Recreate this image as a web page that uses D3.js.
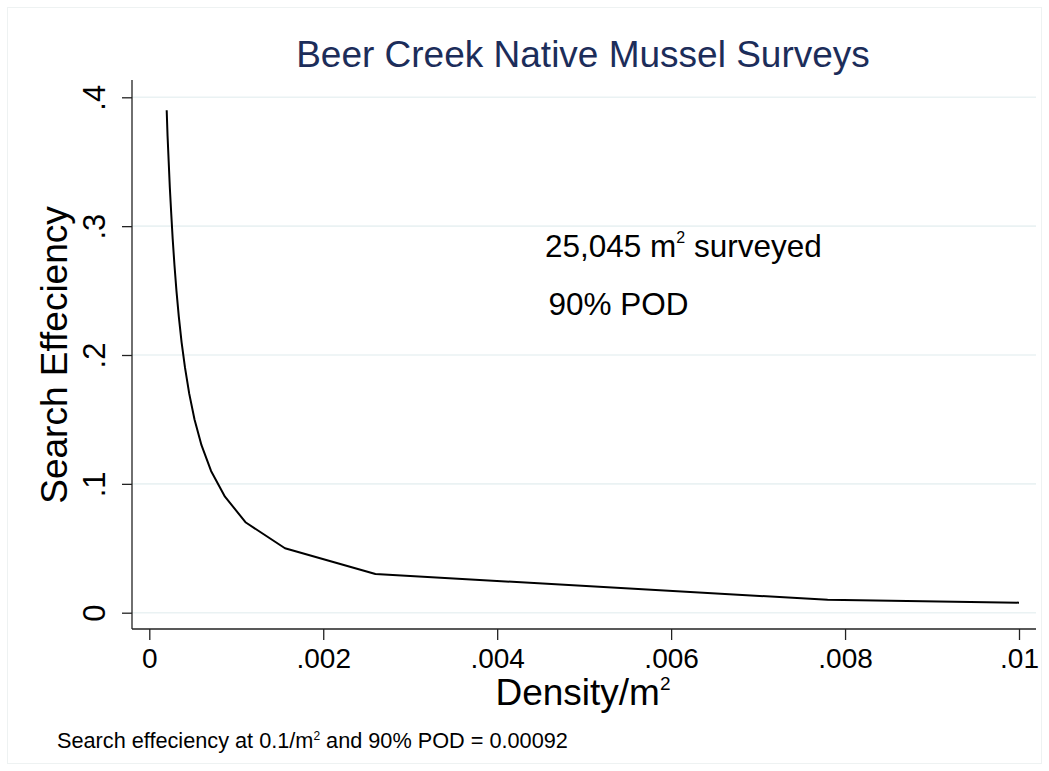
<!DOCTYPE html>
<html>
<head>
<meta charset="utf-8">
<script src="https://cdn.jsdelivr.net/npm/d3@7"></script>
<style>
  html, body { margin: 0; padding: 0; background: #ffffff; }
  svg text { font-family: "Liberation Sans", Arial, Helvetica, sans-serif; }
</style>
</head>
<body>
<svg id="chart" width="1049" height="771"></svg>
<script>
// Search efficiency curve: density (per m²) against search efficiency
const density = [0.0002, 0.00021, 0.000223, 0.000236, 0.000252, 0.000269, 0.000289,
  0.000312, 0.000339, 0.000371, 0.000411, 0.000459, 0.00052, 0.0006, 0.00071,
  0.00087, 0.00111, 0.00156, 0.0026, 0.0078, 0.01];
const efficiency = [0.39, 0.37, 0.35, 0.33, 0.31, 0.29, 0.27, 0.25, 0.23, 0.21, 0.19,
  0.17, 0.15, 0.13, 0.11, 0.09, 0.07, 0.05, 0.03, 0.01, 0.0078];

const xTicks = [0, 0.002, 0.004, 0.006, 0.008, 0.01];
const xTickLabels = ["0", ".002", ".004", ".006", ".008", ".01"];
const yTicks = [0, 0.1, 0.2, 0.3, 0.4];
const yTickLabels = ["0", ".1", ".2", ".3", ".4"];

const titleText = "Beer Creek Native Mussel Surveys";
const yTitle = "Search Effeciency";
const noteArea = "25,045";
const notePOD = "90% POD";

const svg = d3.select("#chart");
const W = 1049, H = 771;

// outer frame
svg.append("rect").attr("x", 7.5).attr("y", 7.5).attr("width", W - 15).attr("height", H - 15)
  .attr("fill", "#ffffff").attr("stroke", "#eef2f2").attr("stroke-width", 1);

const plot = { left: 132, right: 1036, top: 80, bottom: 629 };

const x = d3.scaleLinear().domain([0, 0.01]).range([149.3, 1019]);
const y = d3.scaleLinear().domain([0, 0.4]).range([612.7, 97.3]);

// horizontal gridlines
svg.append("g").selectAll("line").data(yTicks).join("line")
  .attr("x1", plot.left).attr("x2", plot.right)
  .attr("y1", d => y(d)).attr("y2", d => y(d))
  .attr("stroke", "#eaf2f3").attr("stroke-width", 1.6);

// y axis
const yAxis = d3.axisLeft(y).tickValues(yTicks).tickSize(10).tickPadding(0)
  .tickFormat((d, i) => yTickLabels[i]);
const gy = svg.append("g").attr("transform", `translate(${plot.left},0)`).call(yAxis);
gy.select(".domain").remove();
gy.selectAll(".tick line").attr("stroke", "#222").attr("stroke-width", 1.3);
gy.selectAll(".tick text")
  .attr("x", 0).attr("dy", 0)
  .attr("transform", "translate(-27,0) rotate(-90)")
  .attr("text-anchor", "middle")
  .attr("fill", "#000").style("font-size", "31px");
svg.append("line").attr("x1", plot.left).attr("x2", plot.left)
  .attr("y1", plot.top).attr("y2", plot.bottom)
  .attr("stroke", "#222").attr("stroke-width", 1.3);

// x axis
const xAxis = d3.axisBottom(x).tickValues(xTicks).tickSize(11).tickPadding(8)
  .tickFormat((d, i) => xTickLabels[i]);
const gx = svg.append("g").attr("transform", `translate(0,${plot.bottom})`).call(xAxis);
gx.select(".domain").remove();
gx.selectAll(".tick line").attr("stroke", "#222").attr("stroke-width", 1.3);
gx.selectAll(".tick text").attr("fill", "#000").style("font-size", "28px").attr("dy", "0.71em");
svg.append("line").attr("x1", plot.left).attr("x2", plot.right)
  .attr("y1", plot.bottom).attr("y2", plot.bottom)
  .attr("stroke", "#222").attr("stroke-width", 1.3);

// curve
const pts = density.map((d, i) => [d, efficiency[i]]);
svg.append("path").datum(pts)
  .attr("d", d3.line().x(d => x(d[0])).y(d => y(d[1])))
  .attr("fill", "none").attr("stroke", "#000").attr("stroke-width", 2)
  .attr("stroke-linejoin", "round");

// title
svg.append("text").attr("x", 583).attr("y", 67).attr("text-anchor", "middle")
  .attr("fill", "#1c2d5a").style("font-size", "37px").text(titleText);

// y axis title
svg.append("text").attr("transform", "translate(67,355) rotate(-90)")
  .attr("text-anchor", "middle").attr("fill", "#000").style("font-size", "37px").text(yTitle);

// x axis title with superscript
const xt = svg.append("text").attr("x", 583).attr("y", 705).attr("text-anchor", "middle")
  .attr("fill", "#000").style("font-size", "37px");
xt.append("tspan").text("Density/m");
xt.append("tspan").attr("dy", -15).style("font-size", "19px").text("2");

// annotations
const a1 = svg.append("text").attr("x", x(0.00455)).attr("y", 257)
  .attr("fill", "#000").style("font-size", "31.5px");
a1.append("tspan").text(noteArea + " m");
a1.append("tspan").attr("dy", -14).style("font-size", "16px").text("2");
a1.append("tspan").attr("dy", 14).text(" surveyed");

svg.append("text").attr("x", x(0.00459)).attr("y", 315)
  .attr("fill", "#000").style("font-size", "31.5px").text(notePOD);

// footnote
const fn = svg.append("text").attr("x", 57).attr("y", 748)
  .attr("fill", "#000").style("font-size", "21.7px");
fn.append("tspan").text("Search effeciency at 0.1/m");
fn.append("tspan").attr("dy", -8).style("font-size", "12px").text("2");
fn.append("tspan").attr("dy", 8).text(" and 90% POD = 0.00092");
</script>
</body>
</html>
